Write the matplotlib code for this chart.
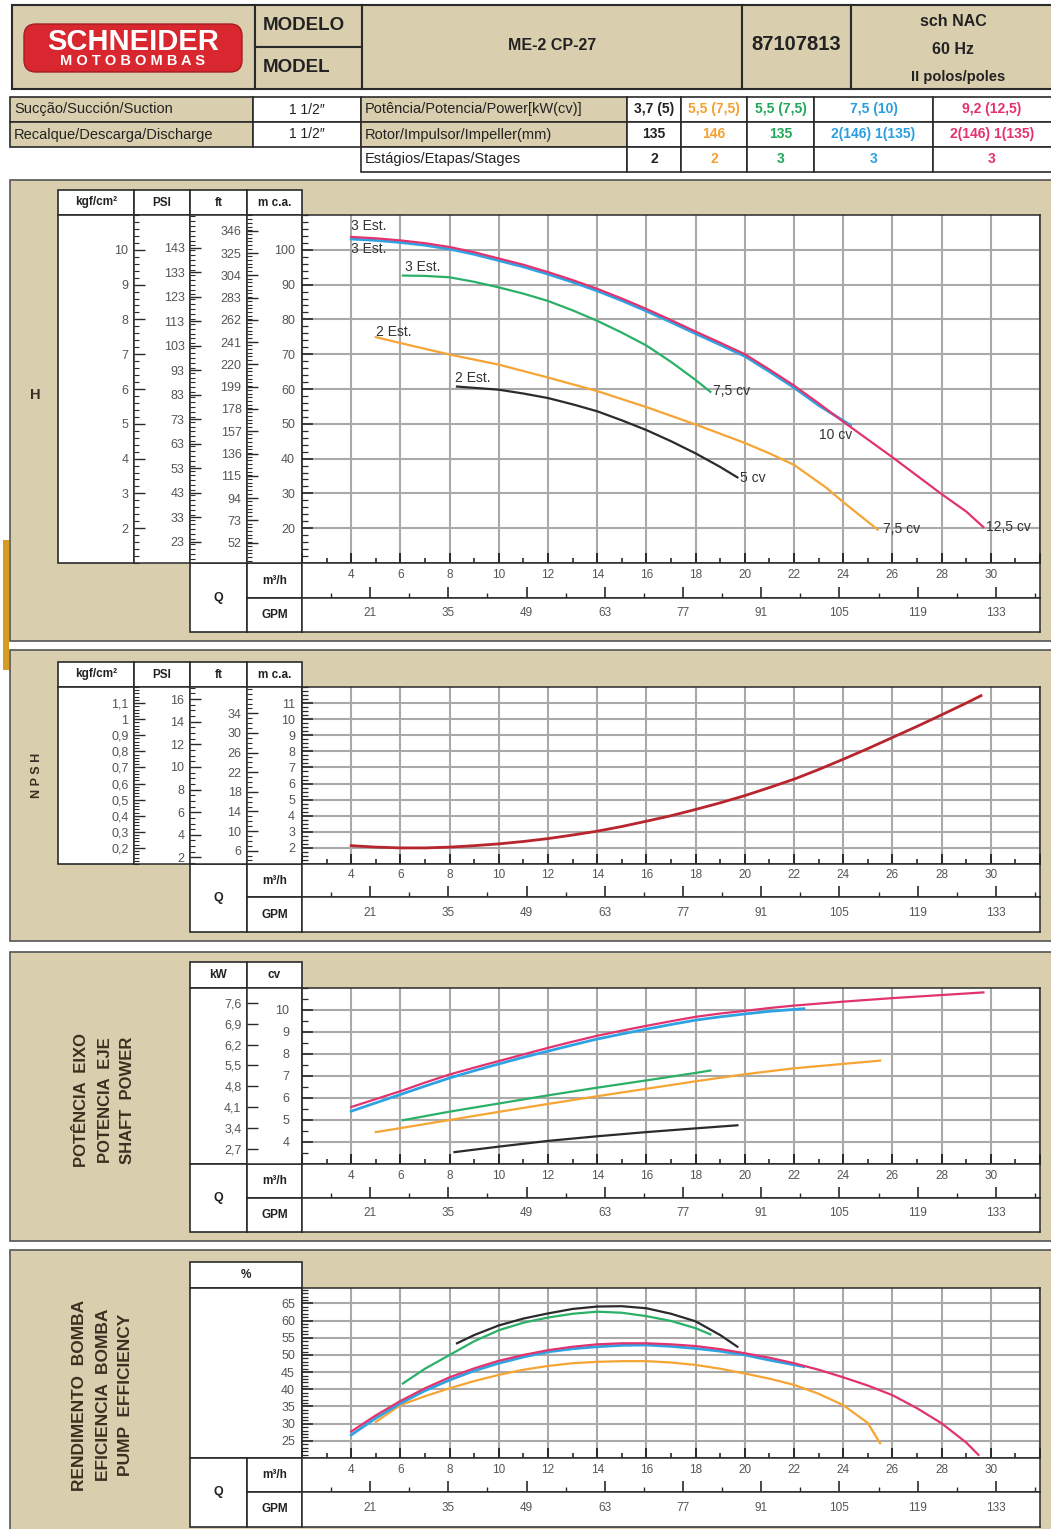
import matplotlib
matplotlib.use('Agg')
import matplotlib.pyplot as plt
from matplotlib.patches import Rectangle, FancyBboxPatch
from matplotlib.ticker import FixedLocator, MultipleLocator, FuncFormatter
import numpy as np

plt.rcParams['font.family'] = ['Liberation Sans', 'DejaVu Sans']

# ---- data ----
POWER_LABELS = ['3,7 (5)', '5,5 (7,5)', '5,5 (7,5)', '7,5 (10)', '9,2 (12,5)']
IMPELLER = ['135', '146', '135', '2(146) 1(135)', '2(146) 1(135)']
STAGES = ['2', '2', '3', '3', '3']

# head H (m c.a.) vs Q (m3/h)
q_h_black = [8.3, 10, 11, 12, 13, 14, 15, 16, 17, 18, 19, 19.7]
h_black = [60.7, 59.8, 58.7, 57.4, 55.6, 53.6, 51.0, 48.2, 45.0, 41.5, 37.6, 34.6]
q_h_orange = [5, 6, 8, 10, 12, 14, 16, 18, 20, 21, 22, 23.3, 24, 25.4]
h_orange = [74.9, 73.2, 69.9, 67.0, 63.3, 59.4, 54.8, 49.8, 44.5, 41.5, 38.2, 31.7, 27.5, 19.6]
q_h_green = [6.1, 7, 8, 9, 10, 11, 12, 13, 14, 15, 16, 17, 18, 18.6]
h_green = [92.6, 92.5, 92.1, 90.8, 89.2, 87.4, 85.3, 82.6, 79.6, 76.2, 72.5, 67.8, 62.6, 59.2]
q_h_blue = [4, 5, 6, 7, 8, 9, 10, 11, 12, 13, 14, 15, 16, 17, 18, 19, 20, 21, 22, 23, 24.3]
h_blue = [103.1, 102.7, 102.1, 101.3, 100.2, 98.7, 96.9, 95.1, 93.0, 90.7, 88.2, 85.4,
          82.4, 79.2, 75.9, 72.7, 69.4, 65.0, 60.4, 55.3, 49.6]
q_h_pink = [4, 5, 6, 7, 8, 9, 10, 11, 12, 13, 14, 15, 16, 17, 18, 19, 20, 21, 22,
            23, 24, 25, 26, 27, 28, 29, 29.7]
h_pink = [103.7, 103.3, 102.7, 101.9, 100.8, 99.3, 97.5, 95.7, 93.6, 91.3, 88.8, 86.0,
          83.0, 79.8, 76.5, 73.3, 70.0, 65.6, 61.0, 55.9, 50.6, 45.5, 40.4, 35.1, 29.8,
          24.8, 20.3]
h_label_text = ['3 Est.', '3 Est.', '3 Est.', '2 Est.', '2 Est.',
                '7,5 cv', '10 cv', '5 cv', '7,5 cv', '12,5 cv']

# NPSH (m c.a.)
q_npsh = [4, 5, 6, 7, 8, 9, 10, 11, 12, 13, 14, 15, 16, 17, 18, 19, 20, 21, 22,
          23, 24, 25, 26, 27, 28, 29, 29.6]
npsh = [2.14, 2.05, 2.0, 2.0, 2.05, 2.14, 2.25, 2.40, 2.58, 2.80, 3.04, 3.33, 3.66,
        4.0, 4.39, 4.80, 5.25, 5.75, 6.27, 6.87, 7.51, 8.17, 8.86, 9.55, 10.27, 11.0, 11.46]

# shaft power (cv)
q_p_black = [8.2, 10, 12, 14, 16, 18, 19.7]
p_black = [3.54, 3.79, 4.05, 4.26, 4.45, 4.62, 4.76]
q_p_orange = [5, 6, 8, 10, 12, 14, 16, 18, 20, 22, 24, 25.5]
p_orange = [4.45, 4.63, 5.0, 5.37, 5.73, 6.08, 6.42, 6.76, 7.08, 7.35, 7.55, 7.70]
q_p_green = [6.1, 8, 10, 12, 14, 16, 18, 18.6]
p_green = [4.99, 5.38, 5.75, 6.12, 6.47, 6.80, 7.14, 7.25]
q_p_blue = [4, 5, 6, 7, 8, 9, 10, 11, 12, 13, 14, 15, 16, 17, 18, 19, 20, 21, 22.4]
p_blue = [5.40, 5.78, 6.16, 6.54, 6.91, 7.24, 7.55, 7.85, 8.13, 8.41, 8.68, 8.91,
          9.13, 9.34, 9.54, 9.69, 9.82, 9.94, 10.06]
q_p_pink = [4, 5, 6, 7, 8, 9, 10, 11, 12, 13, 14, 15, 16, 17, 18, 19, 20, 21, 22,
            23, 24, 25, 26, 27, 28, 29, 29.7]
p_pink = [5.59, 5.95, 6.31, 6.70, 7.07, 7.38, 7.68, 7.98, 8.28, 8.56, 8.83, 9.06, 9.28,
          9.49, 9.69, 9.84, 9.96, 10.09, 10.2, 10.29, 10.38, 10.46, 10.54, 10.61, 10.68,
          10.75, 10.80]

# pump efficiency (%)
q_e_black = [8.3, 9, 10, 11, 12, 13, 14, 15, 16, 17, 18, 19, 19.7]
e_black = [53.4, 55.8, 58.6, 60.6, 62.1, 63.4, 64.1, 64.2, 63.6, 62.0, 59.8, 55.8, 52.4]
q_e_green = [6.1, 7, 8, 9, 10, 11, 12, 13, 14, 15, 16, 17, 18, 18.6]
e_green = [41.7, 46.0, 50.0, 54.0, 57.2, 59.4, 60.9, 62.0, 62.6, 62.3, 61.3, 59.9, 57.8, 56.0]
q_e_orange = [5, 6, 7, 8, 9, 10, 11, 12, 13, 14, 15, 16, 17, 18, 19, 20, 21, 22, 23,
              24, 25, 25.5]
e_orange = [30.5, 35.4, 38.0, 40.3, 42.4, 44.2, 45.7, 46.8, 47.6, 48.0, 48.2, 48.2, 47.8,
            47.1, 46.0, 44.6, 43.1, 41.3, 38.7, 35.4, 30.2, 24.3]
q_e_blue = [4, 5, 6, 7, 8, 9, 10, 11, 12, 13, 14, 15, 16, 17, 18, 19, 20, 21, 22.4]
e_blue = [26.7, 31.6, 35.9, 39.6, 42.7, 45.4, 47.6, 49.4, 50.9, 51.8, 52.4, 52.8, 52.9,
          52.5, 51.9, 51.1, 50.0, 48.5, 46.6]
q_e_pink = [4, 5, 6, 7, 8, 9, 10, 11, 12, 13, 14, 15, 16, 17, 18, 19, 20, 21, 22, 23,
            24, 25, 26, 27, 28, 29, 29.5]
e_pink = [27.7, 32.4, 36.6, 40.3, 43.5, 46.1, 48.3, 50.0, 51.4, 52.4, 53.1, 53.4, 53.4,
          53.1, 52.6, 51.7, 50.5, 49.2, 47.6, 45.7, 43.5, 41.1, 38.3, 34.5, 30.1, 24.5, 20.9]

# axis scales
Q_LABELS = list(range(4, 31, 2))
GPM_LABELS = list(range(21, 134, 14))
GPM_MINOR = list(range(14, 141, 14))
GPM2M3H = 0.227125
H_M = [20, 30, 40, 50, 60, 70, 80, 90, 100]
H_FT = [52, 73, 94, 115, 136, 157, 178, 199, 220, 241, 262, 283, 304, 325, 346]
H_PSI = [23, 33, 43, 53, 63, 73, 83, 93, 103, 113, 123, 133, 143]
H_KGF = [2, 3, 4, 5, 6, 7, 8, 9, 10]
N_M = [2, 3, 4, 5, 6, 7, 8, 9, 10, 11]
N_FT = [6, 10, 14, 18, 22, 26, 30, 34]
N_PSI = [2, 4, 6, 8, 10, 12, 14, 16]
N_KGF = [0.2, 0.3, 0.4, 0.5, 0.6, 0.7, 0.8, 0.9, 1.0, 1.1]
P_CV = [4, 5, 6, 7, 8, 9, 10]
P_KW = [2.7, 3.4, 4.1, 4.8, 5.5, 6.2, 6.9, 7.6]
E_PCT = [25, 30, 35, 40, 45, 50, 55, 60, 65]

# ---- style ----
BEIGE = '#d9cfae'
EDGE = '#2a2a2a'
C_BLACK, C_ORANGE, C_GREEN, C_BLUE, C_PINK = '#2b2b2b', '#f6a534', '#2bb067', '#2ea3e3', '#e2336f'
T_COLORS = ['#222222', '#f5a030', '#20a85a', '#2a9fe0', '#e6306c']
C_NPSH = '#b8252e'
LBL = '#555555'

W, H = 1051, 1529
fig = plt.figure(figsize=(W / 100, H / 100), dpi=100)
fig.patch.set_facecolor('white')


def box(x0, y0, x1, y1):
    return [x0 / W, 1 - y1 / H, (x1 - x0) / W, (y1 - y0) / H]


bg = fig.add_axes([0, 0, 1, 1])
bg.set_xlim(0, W)
bg.set_ylim(H, 0)
bg.axis('off')
bg.set_zorder(-10)


def cell(x0, y0, x1, y1, fc='white', ec=EDGE, lw=1.2, z=1):
    bg.add_patch(Rectangle((x0, y0), x1 - x0, y1 - y0, facecolor=fc,
                           edgecolor=ec, linewidth=lw, zorder=z))


def txt(x, y, s, **kw):
    opts = dict(ha='center', va='center', fontsize=10, color='#222222', zorder=5)
    opts.update(kw)
    bg.text(x, y, s, **opts)


# ---- header block ----
cell(12, 5, 255, 89, fc=BEIGE, lw=1.5)
cell(255, 5, 362, 47, fc=BEIGE, lw=1.5)
cell(255, 47, 362, 89, fc=BEIGE, lw=1.5)
cell(362, 5, 742, 89, fc=BEIGE, lw=1.5)
cell(742, 5, 851, 89, fc=BEIGE, lw=1.5)
cell(851, 5, 1062, 89, fc=BEIGE, lw=1.5)
bg.add_patch(FancyBboxPatch((24, 24), 218, 48, boxstyle='round,pad=0,rounding_size=12',
                            facecolor='#d8272e', edgecolor='#a51c22', linewidth=1, zorder=3))
txt(133, 42, 'SCHNEIDER', color='white', fontsize=21, fontweight='bold')
txt(133, 61, ' '.join('MOTOBOMBAS'), color='white', fontsize=10.5, fontweight='bold')
txt(263, 26, 'MODELO', ha='left', fontsize=13.5, fontweight='bold')
txt(263, 67, 'MODEL', ha='left', fontsize=13.5, fontweight='bold')
txt(552, 45, 'ME-2 CP-27', fontsize=11.5, fontweight='bold')
txt(796, 45, '87107813', fontsize=14.5, fontweight='bold')
txt(953, 21, 'sch NAC', fontsize=11.5, fontweight='bold')
txt(953, 49, '60 Hz', fontsize=11.5, fontweight='bold')
txt(958, 77, 'II polos/poles', fontsize=10.5, fontweight='bold')

# ---- spec table ----
rows = [97, 122, 146.5, 171.5]
cell(10, rows[0], 253, rows[1], fc=BEIGE)
cell(10, rows[1], 253, rows[2], fc=BEIGE)
cell(253, rows[0], 361, rows[1])
cell(253, rows[1], 361, rows[2])
cell(361, rows[0], 627, rows[1], fc=BEIGE)
cell(361, rows[1], 627, rows[2], fc=BEIGE)
cell(361, rows[2], 627, rows[3])
txt(14, 109.5, 'Sucção/Succión/Suction', ha='left', fontsize=10.5)
txt(14, 134.5, 'Recalque/Descarga/Discharge', ha='left', fontsize=10.5)
txt(307, 109.5, '1 1/2\u2033', fontsize=10)
txt(307, 134.5, '1 1/2\u2033', fontsize=10)
txt(365, 109.5, 'Potência/Potencia/Power[kW(cv)]', ha='left', fontsize=10.5)
txt(365, 134.5, 'Rotor/Impulsor/Impeller(mm)', ha='left', fontsize=10.5)
txt(365, 159, 'Estágios/Etapas/Stages', ha='left', fontsize=10.5)
col_edges = [627, 681, 747, 814, 933, 1062]
for i in range(5):
    xa, xb = col_edges[i], col_edges[i + 1]
    xc = (xa + min(xb, 1051)) / 2
    for r, vals in enumerate([POWER_LABELS, IMPELLER, STAGES]):
        cell(xa, rows[r], xb, rows[r + 1])
        txt(xc, (rows[r] + rows[r + 1]) / 2, vals[i], fontsize=10,
            fontweight='bold', color=T_COLORS[i])

# ---- panel backgrounds ----
for (y0, y1) in [(180, 641), (650, 941), (952, 1241), (1250, 1540)]:
    cell(10, y0, 1062, y1, fc=BEIGE, ec='#555555', lw=1.2, z=0)
bg.add_patch(Rectangle((3, 540), 6, 130, facecolor='#d49c22', edgecolor='none', zorder=1))

TITLE_C = '#3a2f20'
txt(35, 395, 'H', fontweight='bold', fontsize=10.5, color=TITLE_C)
txt(37, 775, 'N P S H', fontweight='bold', fontsize=9, color=TITLE_C, rotation=90)
for x, s in zip([82, 105, 127], ['POTÊNCIA  EIXO', 'POTENCIA  EJE', 'SHAFT  POWER']):
    txt(x, 1100, s, fontweight='bold', fontsize=12, color=TITLE_C, rotation=90)
for x, s in zip([80, 103, 125], ['RENDIMENTO  BOMBA', 'EFICIENCIA  BOMBA', 'PUMP  EFFICIENCY']):
    txt(x, 1395, s, fontweight='bold', fontsize=12.5, color=TITLE_C, rotation=90)

PX0, PX1 = 302, 1040


def comma(v, pos):
    return ('%g' % round(v, 2)).replace('.', ',')


def style_spines(ax):
    for s in ax.spines.values():
        s.set_linewidth(1.1)
        s.set_color(EDGE)


def scale_ax(x0, x1, y0, y1, lo, hi, major, minor, fmt=None, pad=4):
    ax = fig.add_axes(box(x0, y0, x1, y1))
    ax.set_facecolor('white')
    ax.set_xlim(0, 1)
    ax.set_ylim(lo, hi)
    ax.set_xticks([])
    ax.yaxis.set_major_locator(FixedLocator(major))
    ax.yaxis.set_minor_locator(MultipleLocator(minor))
    ax.tick_params(axis='y', which='major', direction='in', length=8, width=1.0,
                   pad=pad, labelsize=9, labelcolor=LBL, color=EDGE)
    ax.tick_params(axis='y', which='minor', direction='in', length=3.5, width=0.8, color=EDGE)
    if fmt:
        ax.yaxis.set_major_formatter(FuncFormatter(fmt))
    style_spines(ax)
    return ax


def main_ax(y0, y1, lo, hi, major, minor, pad=5):
    ax = fig.add_axes(box(PX0, y0, PX1, y1))
    ax.set_facecolor('white')
    ax.set_xlim(2, 32)
    ax.set_ylim(lo, hi)
    ax.xaxis.set_major_locator(MultipleLocator(2))
    ax.xaxis.set_minor_locator(MultipleLocator(1))
    ax.yaxis.set_major_locator(FixedLocator(major))
    ax.yaxis.set_minor_locator(MultipleLocator(minor))
    ax.tick_params(axis='x', which='major', direction='in', length=7.5, width=1.4,
                   labelbottom=False, color=EDGE)
    ax.tick_params(axis='x', which='minor', direction='in', length=3.5, width=1.2, color=EDGE)
    ax.tick_params(axis='y', which='major', direction='in', length=8, width=1.2,
                   pad=pad, labelsize=9, labelcolor=LBL, color=EDGE)
    ax.tick_params(axis='y', which='minor', direction='in', length=4, width=0.9, color=EDGE)
    ax.grid(True, which='major', color='#a9a9a9', linewidth=1.5)
    ax.set_axisbelow(True)
    style_spines(ax)
    return ax


def q_rows(top, mid, bot):
    cell(190, top, 247, bot)
    cell(247, top, 302, mid)
    cell(247, mid, 302, bot)
    txt(218.5, (top + bot) / 2, 'Q', fontsize=9, fontweight='bold')
    txt(274.5, (top + mid) / 2, 'm\u00b3/h', fontsize=8.5, fontweight='bold')
    txt(274.5, (mid + bot) / 2, 'GPM', fontsize=8.5, fontweight='bold')
    a1 = fig.add_axes(box(PX0, top, PX1, mid))
    a1.set_xlim(2, 32)
    a1.set_ylim(0, 1)
    a1.set_yticks([])
    a1.xaxis.set_major_locator(FixedLocator(np.array(GPM_LABELS) * GPM2M3H))
    a1.xaxis.set_minor_locator(FixedLocator(np.array(GPM_MINOR) * GPM2M3H))
    a1.tick_params(axis='x', which='major', direction='in', length=8, width=1.2,
                   labelbottom=False, color=EDGE)
    a1.tick_params(axis='x', which='minor', direction='in', length=3.5, width=1.0, color=EDGE)
    for q in Q_LABELS:
        a1.text(q, 0.66, str(q), ha='center', va='center', fontsize=8.5, color=LBL)
    style_spines(a1)
    a2 = fig.add_axes(box(PX0, mid, PX1, bot))
    a2.set_xlim(2, 32)
    a2.set_ylim(0, 1)
    a2.set_xticks([])
    a2.set_yticks([])
    for g in GPM_LABELS:
        a2.text(g * GPM2M3H, 0.55, str(g), ha='center', va='center', fontsize=8.5, color=LBL)
    style_spines(a2)


def head_cells(y0, y1, cols):
    for (xa, xb, s) in cols:
        cell(xa, y0, xb, y1)
        txt((xa + xb) / 2, (y0 + y1) / 2, s, fontsize=8.5, fontweight='bold')


FT, PSI = 0.3048, 0.70307

# ---- panel 1: H ----
t, b = 215, 563
head_cells(190, t, [(58, 134, 'kgf/cm\u00b2'), (134, 190, 'PSI'), (190, 247, 'ft'), (247, 302, 'm c.a.')])
cell(58, t, 134, b)
scale_ax(134, 190, t, b, 1, 11, H_KGF, 0.2)
scale_ax(190, 247, t, b, 10 / PSI, 110 / PSI, H_PSI, 2)
scale_ax(247, 302, t, b, 10 / FT, 110 / FT, H_FT, 3.5)
ax1 = main_ax(t, b, 10, 110, H_M, 2)
ax1.plot(q_h_black, h_black, color=C_BLACK, lw=1.6)
ax1.plot(q_h_orange, h_orange, color=C_ORANGE, lw=1.6)
ax1.plot(q_h_green, h_green, color=C_GREEN, lw=1.6)
ax1.plot(q_h_blue, h_blue, color=C_BLUE, lw=2.0)
ax1.plot(q_h_pink, h_pink, color=C_PINK, lw=1.6)
label_pos = [(4.0, 106.7), (4.0, 100.3), (6.2, 95.1), (5.0, 76.5), (8.2, 63.2),
             (18.7, 59.4), (23.0, 46.7), (19.8, 34.5), (25.6, 19.7), (29.8, 20.3)]
for s, (x, y) in zip(h_label_text, label_pos):
    ax1.text(x, y, s, ha='left', va='center', fontsize=10, color='#333333')
q_rows(b, 598, 632)

# ---- panel 2: NPSH ----
t, b = 687, 864
head_cells(662, t, [(58, 134, 'kgf/cm\u00b2'), (134, 190, 'PSI'), (190, 247, 'ft'), (247, 302, 'm c.a.')])
cell(58, t, 134, b)
scale_ax(134, 190, t, b, 0.1, 1.2, N_KGF, 0.02, fmt=comma)
scale_ax(190, 247, t, b, 1 / PSI, 12 / PSI, N_PSI, 0.5)
scale_ax(247, 302, t, b, 1 / FT, 12 / FT, N_FT, 1)
ax2 = main_ax(t, b, 1, 12, N_M, 0.25)
ax2.plot(q_npsh, npsh, color=C_NPSH, lw=2.0)
q_rows(b, 897, 932)

# ---- panel 3: shaft power ----
t, b = 988, 1164
CV2KW = 0.7355
head_cells(962, t, [(190, 247, 'kW'), (247, 302, 'cv')])
cell(190, t, 247, b)
akw = scale_ax(247, 302, t, b, 3 * CV2KW, 11 * CV2KW, P_KW, 10, fmt=comma)
akw.tick_params(axis='y', which='minor', length=0)
ax3 = main_ax(t, b, 3, 11, P_CV, 0.5, pad=9)
ax3.plot(q_p_black, p_black, color=C_BLACK, lw=1.6)
ax3.plot(q_p_orange, p_orange, color=C_ORANGE, lw=1.6)
ax3.plot(q_p_green, p_green, color=C_GREEN, lw=1.6)
ax3.plot(q_p_blue, p_blue, color=C_BLUE, lw=2.0)
ax3.plot(q_p_pink, p_pink, color=C_PINK, lw=1.6)
q_rows(b, 1198, 1232)

# ---- panel 4: efficiency ----
t, b = 1288, 1458
head_cells(1262, t, [(190, 302, '%')])
cell(190, t, 302, b)
ax4 = main_ax(t, b, 20, 69.5, E_PCT, 1)
ax4.plot(q_e_orange, e_orange, color=C_ORANGE, lw=1.6)
ax4.plot(q_e_blue, e_blue, color=C_BLUE, lw=2.0)
ax4.plot(q_e_pink, e_pink, color=C_PINK, lw=1.6)
ax4.plot(q_e_black, e_black, color=C_BLACK, lw=1.6)
ax4.plot(q_e_green, e_green, color=C_GREEN, lw=1.6)
q_rows(b, 1492, 1527)

fig.savefig('out.png', dpi=100, facecolor='white')
